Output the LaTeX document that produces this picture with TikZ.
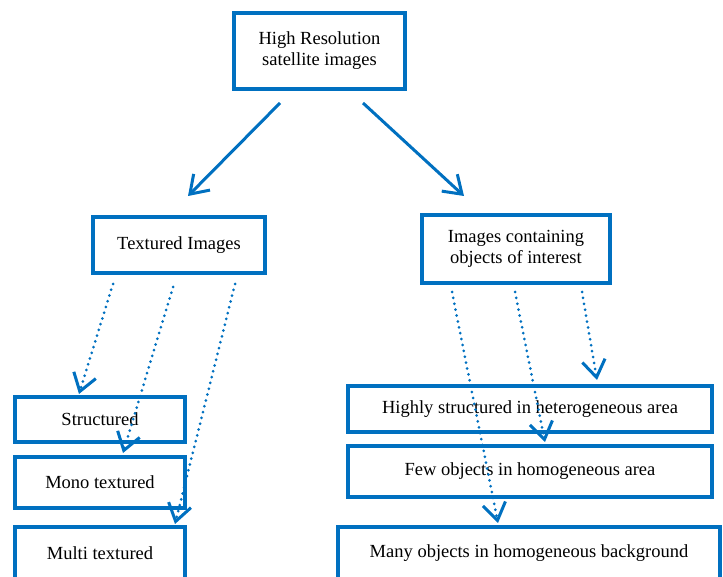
\documentclass[tikz,border=0pt]{standalone}
\usepackage{fontspec}
\setmainfont{Liberation Serif}
\usetikzlibrary{arrows.meta}
\definecolor{boxblue}{HTML}{0070C0}
\begin{document}
\begin{tikzpicture}[x=1pt,y=-1pt,
    box/.style={draw=boxblue, line width=3.2pt, inner sep=0pt, align=center, font=\fontsize{18.5}{21}\selectfont},
    mainarrow/.style={draw=boxblue, line width=3pt, -{Straight Barb[length=17pt,width=23pt]}},
    dotarrow/.style={draw=boxblue, line width=3pt, line cap=round, dash pattern=on 0pt off 6pt,
        -{Straight Barb[length=17pt,width=23pt,line width=3pt]}}]
    \useasboundingbox (0,0) rectangle (723,577);
    \node[box, minimum width=171, minimum height=76] (hrs) at (319.5,51) {\raisebox{3pt}{High Resolution}\\\raisebox{3pt}{satellite images}};
    \node[box, minimum width=172, minimum height=56] (tex) at (179,245) {Textured Images};
    \node[box, minimum width=188, minimum height=68] (obj) at (516,249) {Images containing\\objects of interest};
    \node[box, minimum width=170, minimum height=45] (str) at (100,419.5) {Structured};
    \node[box, minimum width=170, minimum height=51] (mono) at (100,482.5) {Mono textured};
    \node[box, minimum width=170, minimum height=52] (multi) at (100,553) {Multi textured};
    \node[box, minimum width=364, minimum height=46] (high) at (530,409) {Highly structured in heterogeneous area};
    \node[box, minimum width=364, minimum height=51] (few) at (530,471.5) {Few objects in homogeneous area};
    \node[box, minimum width=382, minimum height=52] (many) at (529,553) {Many objects in homogeneous background};
    \coordinate (hrs-l) at (280,103);
    \coordinate (hrs-r) at (363,103);
    \coordinate (tex-in) at (188,196);
    \coordinate (obj-in) at (464,196);
    \draw[mainarrow] (hrs-l) -- (tex-in);
    \draw[mainarrow] (hrs-r) -- (obj-in);
    \coordinate (tex-a) at (113,284);
    \coordinate (tex-b) at (173,287);
    \coordinate (tex-c) at (235,284);
    \coordinate (str-in) at (79,394);
    \coordinate (mono-in) at (123,453);
    \coordinate (multi-in) at (175,524);
    \draw[dotarrow] (tex-a) -- (str-in);
    \draw[dotarrow] (tex-b) -- (mono-in);
    \draw[dotarrow] (tex-c) -- (multi-in);
    \coordinate (obj-a) at (452,292);
    \coordinate (obj-b) at (515,292);
    \coordinate (obj-c) at (582,292);
    \coordinate (many-in) at (498,523);
    \coordinate (few-in) at (545,442);
    \coordinate (high-in) at (597,380);
    \draw[dotarrow] (obj-a) -- (many-in);
    \draw[dotarrow] (obj-b) -- (few-in);
    \draw[dotarrow] (obj-c) -- (high-in);
\end{tikzpicture}
\end{document}
